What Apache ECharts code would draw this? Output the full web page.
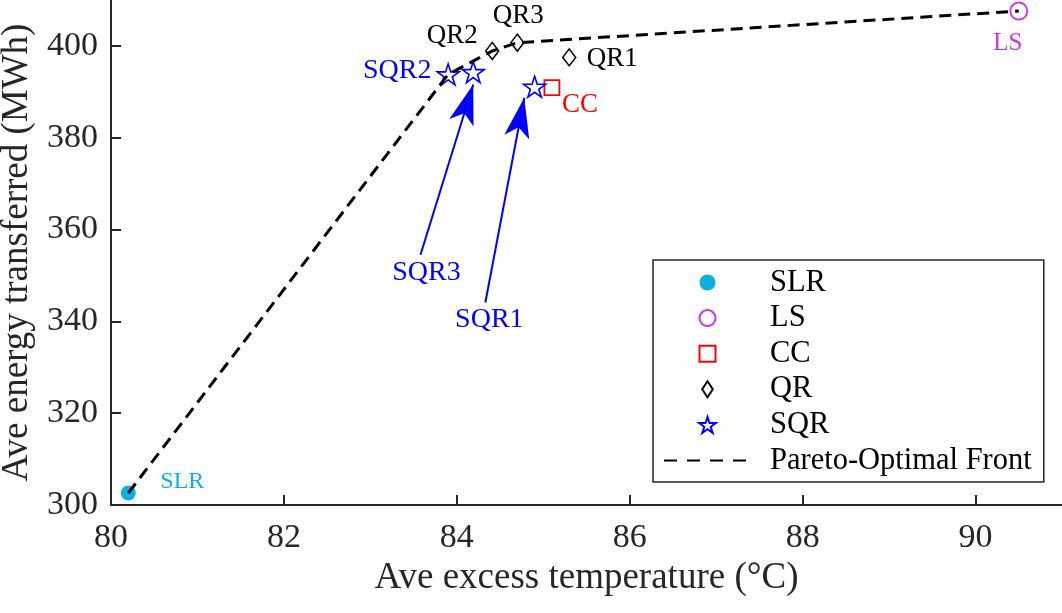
<!DOCTYPE html>
<html>
<head>
<meta charset="utf-8">
<script src="https://cdn.jsdelivr.net/npm/echarts@6/dist/echarts.min.js"></script>
<style>
  html, body { margin: 0; padding: 0; background: #fff; }
  #box { width: 1062px; height: 613px; }
</style>
</head>
<body>
<div id="box"></div>
<script>
// chart values
const slrX = [80.2], slrY = [302.6];
const lsX = [90.5], lsY = [407.6];
const ccX = [85.1], ccY = [390.9];
const qrNames = ['QR1', 'QR2', 'QR3'];
const qrX = [85.3, 84.41, 84.7];
const qrY = [397.5, 398.9, 400.7];
const sqrNames = ['SQR1', 'SQR2', 'SQR3'];
const sqrX = [84.9, 83.9, 84.19];
const sqrY = [391.1, 393.8, 394.3];
const frontX = [80.2, 83.9, 84.41, 84.7, 90.5];
const frontY = [302.6, 393.8, 398.9, 400.7, 407.6];
// arrows pointing at SQR3 and SQR1 (tail -> tip)
const arrowNames = ['SQR3', 'SQR1'];
const arrowFromX = [83.58, 84.33], arrowFromY = [354.5, 344.1];
const arrowToX = [84.19, 84.78], arrowToY = [391.6, 388.7];
const xTicks = [80, 82, 84, 86, 88, 90];
const yTicks = [300, 320, 340, 360, 380, 400];

const FONT = "'Liberation Serif', 'Times New Roman', serif";
const AXIS = '#262626';
const C_SLR = '#0bb0e3', C_LS = '#cc33ee', C_CC = '#ff0000', C_QR = '#000000', C_SQR = '#0000ff';
const STAR = 'path://M0,-10L2.245,-3.09L9.511,-3.09L3.633,1.18L5.878,8.09L0,3.82L-5.878,8.09L-3.633,1.18L-9.511,-3.09L-2.245,-3.09Z';
const DIAMOND = 'path://M0,-17L13,0L0,17L-13,0Z';
const DIAMOND_LEG = 'path://M0,-3L2,0L0,3L-2,0Z';
const SQUARE = 'path://M0,0H10V10H0Z';

function pts(xs, ys) {
  return xs.map((x, i) => [x, ys[i]]);
}

// text next to a marker; off = label centre minus marker centre, in pixels
const lab = (text, color, size, off) => ({
  show: true, formatter: text, position: 'inside', offset: off,
  color: color, fontFamily: FONT, fontSize: size
});

let myCharts = echarts.init(document.getElementById('box'));

let option = {
  animation: false,
  backgroundColor: '#fff',
  grid: { left: 111, right: 0, top: 0, bottom: 108, containLabel: false, outerBoundsMode: 'none' },
  legend: {
    orient: 'vertical',
    left: 653, top: 260,
    backgroundColor: '#fff',
    borderColor: AXIS, borderWidth: 1.5, borderRadius: 0,
    padding: [7, 12, 6, 10],
    itemWidth: 87, itemHeight: 16, itemGap: 4.6,
    textStyle: { fontFamily: FONT, fontSize: 30.5, color: '#000', lineHeight: 30, padding: [0, 0, 0, 14] },
    data: [
      { name: 'SLR', icon: 'circle' },
      { name: 'LS', icon: 'circle' },
      { name: 'CC', icon: SQUARE },
      { name: 'QR', icon: DIAMOND_LEG },
      { name: 'SQR', icon: STAR },
      { name: 'Pareto-Optimal Front', itemStyle: { opacity: 0 }, lineStyle: { type: [13, 10] } }
    ]
  },
  xAxis: {
    type: 'value', min: 80, max: 91,
    name: 'Ave excess temperature (°C)', nameLocation: 'middle', nameGap: 46,
    nameTextStyle: { fontFamily: FONT, fontSize: 37, color: AXIS },
    axisLine: { show: true, lineStyle: { color: AXIS, width: 2 } },
    axisTick: { show: true, inside: true, length: 10, customValues: xTicks, lineStyle: { color: AXIS, width: 2 } },
    axisLabel: { customValues: xTicks, fontFamily: FONT, fontSize: 34, color: AXIS, margin: 16 },
    splitLine: { show: false }
  },
  yAxis: {
    type: 'value', min: 300, max: 410,
    name: 'Ave energy transferred (MWh)', nameLocation: 'middle', nameGap: 72, nameRotate: 90,
    nameTextStyle: { fontFamily: FONT, fontSize: 37, color: AXIS },
    axisLine: { show: true, lineStyle: { color: AXIS, width: 2 } },
    axisTick: { show: true, inside: true, length: 10, customValues: yTicks, lineStyle: { color: AXIS, width: 2 } },
    axisLabel: { customValues: yTicks, fontFamily: FONT, fontSize: 34, color: AXIS, margin: 13 },
    splitLine: { show: false }
  },
  series: [
    {
      name: 'SLR', type: 'scatter', symbol: 'circle', symbolSize: 15,
      itemStyle: { color: C_SLR, opacity: 1 },
      data: pts(slrX, slrY),
      label: lab('SLR', C_SLR, 24, [54, -11])
    },
    {
      name: 'LS', type: 'scatter', symbol: 'circle', symbolSize: 17,
      itemStyle: { color: '#fff', borderColor: C_LS, borderWidth: 1.8, opacity: 1 },
      data: pts(lsX, lsY),
      label: lab('LS', C_LS, 25, [-11, 32])
    },
    {
      name: 'CC', type: 'scatter', symbol: SQUARE, symbolSize: 15,
      itemStyle: { color: '#fff', borderColor: C_CC, borderWidth: 1.8, opacity: 1 },
      data: pts(ccX, ccY),
      label: lab('CC', C_CC, 27, [28, 17])
    },
    {
      name: 'QR', type: 'scatter', symbol: DIAMOND, symbolSize: [13, 17],
      itemStyle: { color: '#fff', borderColor: C_QR, borderWidth: 1.5, opacity: 1 },
      data: [
        { value: [qrX[0], qrY[0]], label: lab(qrNames[0], C_QR, 27, [43, 2]) },
        { value: [qrX[1], qrY[1]], label: lab(qrNames[1], C_QR, 27, [-40, -15]) },
        { value: [qrX[2], qrY[2]], label: lab(qrNames[2], C_QR, 27, [1, -27]) }
      ]
    },
    {
      name: 'SQR', type: 'scatter', symbol: STAR, symbolSize: 22, symbolKeepAspect: true,
      itemStyle: { color: '#fff', borderColor: C_SQR, borderWidth: 1.6, opacity: 1 },
      data: [
        { value: [sqrX[0], sqrY[0]] },
        { value: [sqrX[1], sqrY[1]], label: lab(sqrNames[1], C_SQR, 28, [-51, -4]) },
        { value: [sqrX[2], sqrY[2]] }
      ],
      markLine: {
        silent: true,
        symbol: ['none', 'arrow'],
        symbolSize: [19, 40],
        lineStyle: { color: C_SQR, width: 2, type: 'solid' },
        label: { show: false },
        data: arrowNames.map((n, i) => [
          { coord: [arrowFromX[i], arrowFromY[i]] },
          { coord: [arrowToX[i], arrowToY[i]] }
        ])
      },
      markPoint: {
        silent: true,
        symbol: 'circle', symbolSize: 0,
        data: arrowNames.map((n, i) => ({
          coord: [arrowFromX[i], arrowFromY[i]],
          label: lab(n, C_SQR, 28, i === 0 ? [6, 18] : [4, 17])
        }))
      }
    },
    {
      name: 'Pareto-Optimal Front', type: 'line', symbol: 'none',
      lineStyle: { color: '#000', width: 3, type: [12, 7] },
      itemStyle: { color: '#000' },
      data: pts(frontX, frontY)
    }
  ]
};

myCharts.setOption(option);
</script>
</body>
</html>
